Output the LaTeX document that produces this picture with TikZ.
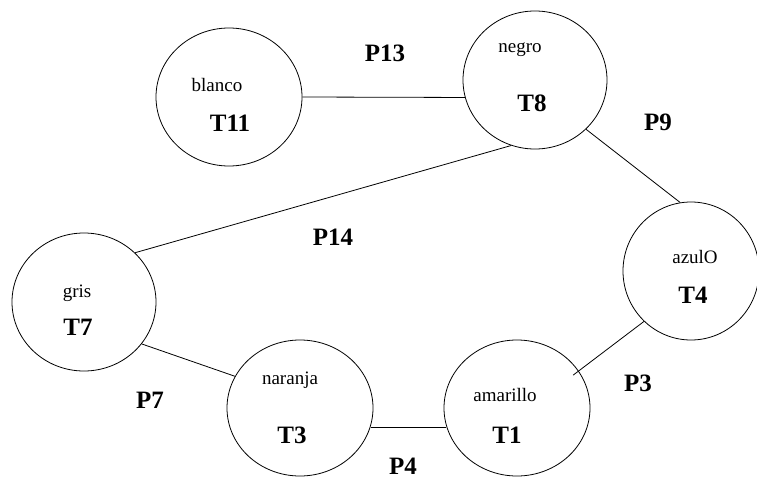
\documentclass[tikz,border=0pt]{standalone}
\usepackage{fontspec}
\setmainfont{Liberation Serif}
\usetikzlibrary{shapes.geometric}

\begin{document}
\begin{tikzpicture}[x=1pt,y=-1pt,
  e/.style={draw,ellipse,line width=0.8pt,inner sep=0pt,minimum width=146pt,minimum height=138pt},
  tx/.style={font=\fontsize{19}{22}\selectfont,inner sep=0pt},
  lb/.style={font=\fontsize{25}{28}\selectfont\bfseries,inner sep=0pt},
  a/.style={line width=0.8pt}]
  \useasboundingbox (0,0) rectangle (757,479);
  % places
  \node[e] (bl) at (229,97) {};
  \node[e,minimum width=144pt] (ne) at (535,80) {};
  \node[e,minimum width=136pt] (az) at (691,271) {};
  \node[e,minimum height=136pt] (am) at (517,408) {};
  \node[e,minimum height=136pt] (na) at (300,408) {};
  \node[e,minimum width=144pt] (gr) at (84,302) {};
  % names
  \node[tx] (blt) at (217,85) {blanco};
  \node[tx] (net) at (520,50) {negro};
  \node[tx] (azt) at (695,257) {azulO};
  \node[tx] (amt) at (505,395) {amarillo};
  \node[tx] (nat) at (290,380) {naranja};
  \node[tx] (grt) at (77,293) {gris};
  \node[lb] (bll) at (230,123) {T11};
  \node[lb] (nel) at (532,103) {T8};
  \node[lb] (azl) at (693,295) {T4};
  \node[lb] (aml) at (507,435) {T1};
  \node[lb] (nal) at (292,435) {T3};
  \node[lb] (grl) at (78,327) {T7};
  % links
  \foreach \u/\w in {bl.east/ne.194,ne.316/az.99,na.345/am.195,gr.324/na.154,gr.44/ne.250}
    \draw[a] (\u)--(\w);
  \draw[a,shorten >=-7pt] (az.227)--(am.31);
  \node[lb] (p13) at (385,53) {P13};
  \node[lb] (p9) at (658,122) {P9};
  \node[lb] (p14) at (333,237) {P14};
  \node[lb] (p3) at (638,383) {P3};
  \node[lb,anchor=base] (p4) at (403,474) {P4};
  \node[lb] (p7) at (150,400) {P7};
\end{tikzpicture}
\end{document}
